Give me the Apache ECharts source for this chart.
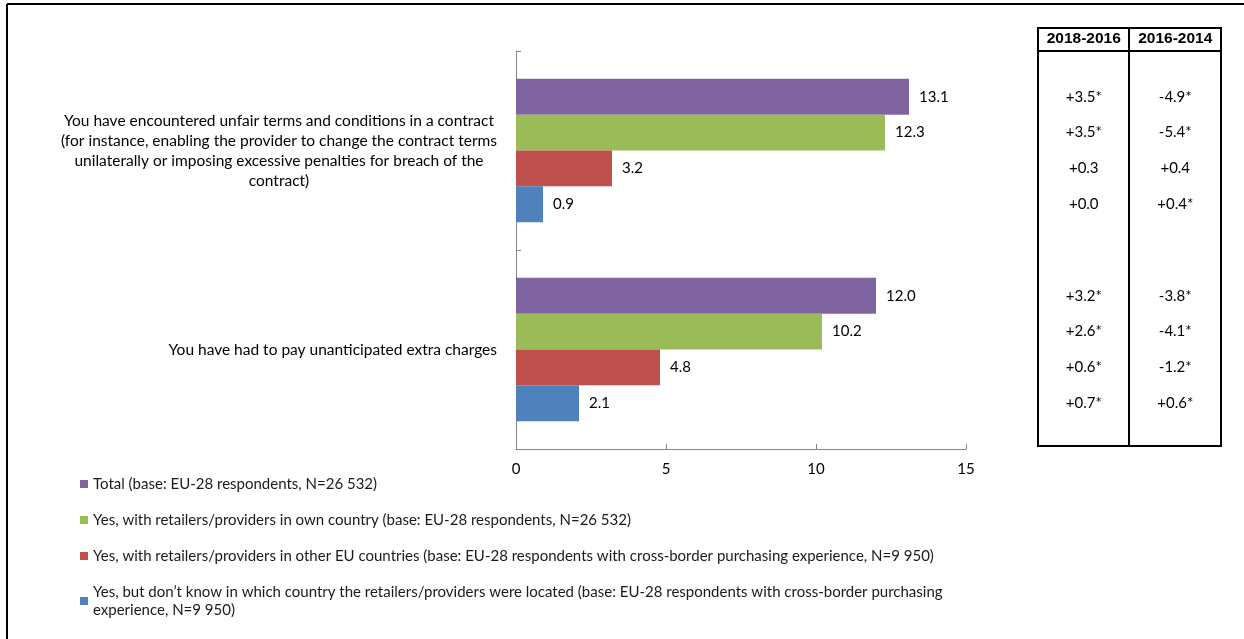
<!DOCTYPE html>
<html>
<head>
<meta charset="utf-8">
<title>Problems experienced with online purchases</title>
<script src="https://cdn.jsdelivr.net/npm/echarts@6/dist/echarts.min.js"></script>
<style>
  html, body { margin: 0; padding: 0; background: #fff; }
  #chart { width: 1244px; height: 639px; }
</style>
</head>
<body>
<div id="chart"></div>
<script>
// Problem categories (line breaks as displayed)
const categories = [
  'You have encountered unfair terms and conditions in a contract\n(for instance, enabling the provider to change the contract terms\nunilaterally or imposing excessive penalties for breach of the\ncontract)',
  'You have had to pay unanticipated extra charges'
];

const seriesNames = [
  'Total (base: EU-28 respondents, N=26 532)',
  'Yes, with retailers/providers in own country (base: EU-28 respondents, N=26 532)',
  'Yes, with retailers/providers in other EU countries (base: EU-28 respondents with cross-border purchasing experience, N=9 950)',
  'Yes, but don\u2019t know in which country the retailers/providers were located (base: EU-28 respondents with cross-border purchasing experience, N=9 950)'
];

// Share of respondents (%), one value per category
const totalValues = [13.1, 12.0];
const ownCountryValues = [12.3, 10.2];
const otherEuValues = [3.2, 4.8];
const unknownCountryValues = [0.9, 2.1];

// Changes in percentage points, one entry per category
const change2018vs2016 = [
  ['+3.5*', '+3.2*'],
  ['+3.5*', '+2.6*'],
  ['+0.3', '+0.6*'],
  ['+0.0', '+0.7*']
];
const change2016vs2014 = [
  ['-4.9*', '-3.8*'],
  ['-5.4*', '-4.1*'],
  ['+0.4', '-1.2*'],
  ['+0.4*', '+0.6*']
];
const tableHeaders = ['2018-2016', '2016-2014'];

const xTicks = { min: 0, max: 15, interval: 5 };
const colors = ['#8064A2', '#9BBB59', '#C0504D', '#4F81BD'];
const valueSets = [totalValues, ownCountryValues, otherEuValues, unknownCountryValues];

const FONT = 'Lato, "Open Sans", sans-serif';
const AXIS_COLOR = '#868686';

const chart = echarts.init(document.getElementById('chart'), null, { renderer: 'canvas' });

const barSeries = valueSets.map((vals, i) => ({
  name: seriesNames[i],
  type: 'bar',
  xAxisIndex: 0,
  yAxisIndex: 0,
  data: vals,
  barGap: '0%',
  barCategoryGap: '28%',
  itemStyle: { color: colors[i] },
  label: {
    show: true,
    position: 'right',
    distance: 10,
    color: '#000',
    fontFamily: FONT,
    fontSize: 15,
    formatter: p => Number(p.value).toFixed(1)
  },
  emphasis: { disabled: true },
  animation: false
}));

// Change table: two invisible stacked cells per row, labelled with the change values
const tableSeries = [];
change2018vs2016.forEach((row, i) => {
  [row, change2016vs2014[i]].forEach((texts, c) => {
    tableSeries.push({
      name: 'change-' + i + '-' + c,
      type: 'bar',
      xAxisIndex: 1,
      yAxisIndex: 1,
      stack: 'row' + i,
      data: texts.map(() => 1),
      barGap: '0%',
      barCategoryGap: '28%',
      itemStyle: { color: 'rgba(0,0,0,0)' },
      label: {
        show: true,
        position: 'inside',
        color: '#000',
        fontFamily: FONT,
        fontSize: 15,
        formatter: p => texts[p.dataIndex]
      },
      silent: true,
      emphasis: { disabled: true },
      animation: false
    });
  });
});

const option = {
  backgroundColor: '#fff',
  animation: false,
  textStyle: { fontFamily: FONT },
  grid: [
    { left: 516, width: 450, top: 51, height: 398 },
    { left: 1038, width: 183, top: 51, height: 398 }
  ],
  xAxis: [
    {
      type: 'value',
      gridIndex: 0,
      min: xTicks.min,
      max: xTicks.max,
      interval: xTicks.interval,
      axisLine: { show: true, lineStyle: { color: AXIS_COLOR, width: 1 } },
      axisTick: { show: true, inside: true, length: 5, lineStyle: { color: AXIS_COLOR } },
      splitLine: { show: false },
      axisLabel: { color: '#000', fontFamily: FONT, fontSize: 15, margin: 13 }
    },
    {
      type: 'value',
      gridIndex: 1,
      min: 0,
      max: tableHeaders.length,
      show: false
    },
    {
      type: 'category',
      gridIndex: 1,
      position: 'top',
      data: tableHeaders,
      axisLine: { show: false },
      axisTick: { show: false },
      axisLabel: {
        interval: 0,
        hideOverlap: false,
        color: '#000',
        fontFamily: '"Liberation Sans", Arial, sans-serif',
        fontWeight: 'bold',
        fontSize: 15.5,
        margin: 4
      }
    }
  ],
  yAxis: [
    {
      type: 'category',
      gridIndex: 0,
      inverse: true,
      data: categories,
      axisLine: { show: true, lineStyle: { color: AXIS_COLOR, width: 1 } },
      axisTick: { show: true, inside: true, length: 5, lineStyle: { color: AXIS_COLOR } },
      axisLabel: {
        margin: 19,
        color: '#000',
        fontFamily: FONT,
        fontSize: 15.5,
        lineHeight: 20,
        formatter: v => v.indexOf('\n') < 0 ? v : v.split('\n').map(l => '{c|' + l + '}').join('\n'),
        rich: {
          c: { align: 'center', color: '#000', fontFamily: FONT, fontSize: 15.5, lineHeight: 20 }
        }
      }
    },
    {
      type: 'category',
      gridIndex: 1,
      inverse: true,
      data: categories,
      show: false
    }
  ],
  legend: {
    data: seriesNames,
    orient: 'vertical',
    left: 80,
    top: 475,
    padding: 0,
    itemWidth: 8,
    itemHeight: 8,
    itemGap: 18,
    icon: 'rect',
    selectedMode: false,
    textStyle: {
      color: '#1a1a1a',
      fontFamily: FONT,
      fontSize: 15,
      lineHeight: 18,
      width: 880,
      overflow: 'break'
    }
  },
  graphic: [
    // page frame
    { type: 'line', silent: true, shape: { x1: 7, y1: 4, x2: 1244, y2: 4 }, style: { stroke: '#000', lineWidth: 2 } },
    { type: 'line', silent: true, shape: { x1: 7, y1: 4, x2: 7, y2: 639 }, style: { stroke: '#000', lineWidth: 2 } },
    // change table outline
    { type: 'rect', silent: true, shape: { x: 1038, y: 28, width: 183, height: 418 }, style: { fill: 'none', stroke: '#000', lineWidth: 2 } },
    { type: 'line', silent: true, shape: { x1: 1038, y1: 51, x2: 1221, y2: 51 }, style: { stroke: '#000', lineWidth: 2 } },
    { type: 'line', silent: true, shape: { x1: 1129, y1: 28, x2: 1129, y2: 446 }, style: { stroke: '#000', lineWidth: 2 } }
  ],
  series: barSeries.concat(tableSeries)
};

chart.setOption(option);
</script>
</body>
</html>
